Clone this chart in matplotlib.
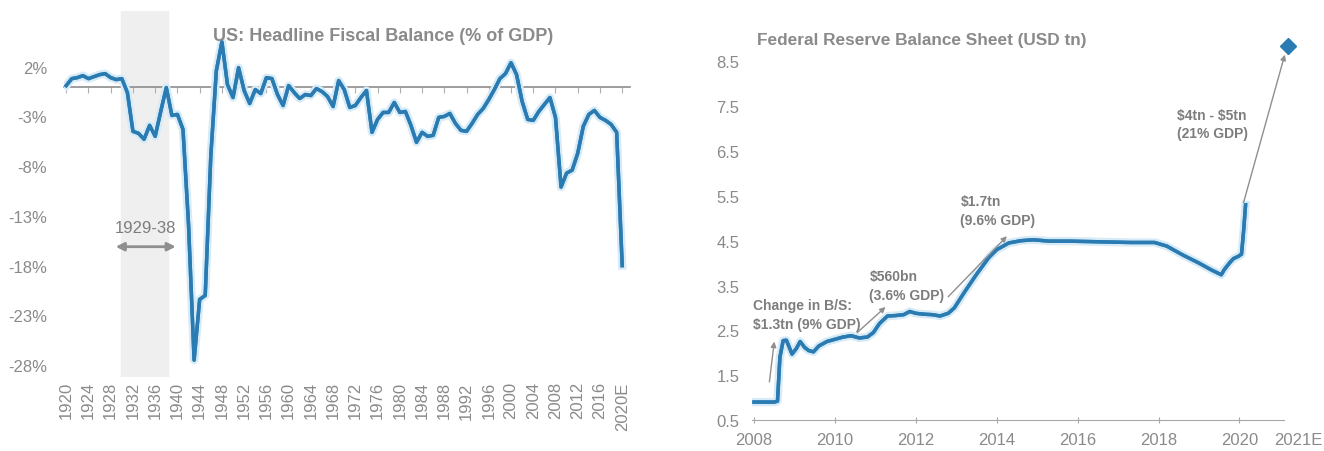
import matplotlib
matplotlib.use("Agg")
import matplotlib.pyplot as plt
import matplotlib.patheffects as pe
from matplotlib.ticker import FixedLocator, NullFormatter

# US headline fiscal balance, % of GDP
fiscal_years = list(range(1920, 2021))
fiscal_balance = [
    0.1, 0.8, 0.9, 1.1, 0.8, 1.0, 1.2, 1.3, 0.9, 0.7,      # 1920s
    0.8, -0.6, -4.5, -4.7, -5.3, -3.9, -5.0, -2.5, -0.1, -2.9,  # 1930s
    -2.8, -4.3, -13.9, -27.5, -21.4, -21.0, -7.0, 1.6, 4.5, 0.2,  # 1940s
    -1.1, 1.9, -0.4, -1.7, -0.3, -0.7, 0.9, 0.8, -0.8, -1.9,  # 1950s
    0.1, -0.6, -1.2, -0.8, -0.9, -0.2, -0.5, -1.0, -2.0, 0.6,  # 1960s
    -0.3, -2.1, -1.9, -1.1, -0.4, -4.6, -3.3, -2.6, -2.6, -1.6,  # 1970s
    -2.6, -2.5, -3.9, -5.6, -4.6, -5.0, -4.9, -3.1, -3.0, -2.7,  # 1980s
    -3.7, -4.4, -4.5, -3.7, -2.8, -2.2, -1.3, -0.3, 0.8, 1.3,  # 1990s
    2.4, 1.2, -1.5, -3.3, -3.4, -2.5, -1.8, -1.1, -3.1, -10.1,  # 2000s
    -8.7, -8.4, -6.7, -4.0, -2.8, -2.4, -3.1, -3.4, -3.8, -4.6,  # 2010s
    -18.0,
]
fiscal_ticks = list(range(1920, 2021, 4))
fiscal_tick_labels = [str(y) for y in fiscal_ticks[:-1]] + ["2020E"]
fiscal_yticks = [2, -3, -8, -13, -18, -23, -28]

# Federal Reserve balance sheet, USD tn
fed_time = [2008.0, 2008.5, 2008.58, 2008.64, 2008.72, 2008.8, 2008.94, 2009.05,
            2009.14, 2009.25, 2009.35, 2009.47, 2009.6, 2009.8, 2010.0, 2010.2,
            2010.4, 2010.6, 2010.8, 2010.95, 2011.1, 2011.3, 2011.5, 2011.7,
            2011.85, 2012.0, 2012.2, 2012.4, 2012.6, 2012.8, 2012.95, 2013.2,
            2013.5, 2013.8, 2014.0, 2014.3, 2014.6, 2014.9, 2015.3, 2015.8,
            2016.3, 2016.8, 2017.3, 2017.9, 2018.2, 2018.6, 2019.0, 2019.3,
            2019.55, 2019.62, 2019.75, 2019.85, 2019.97, 2020.05, 2020.1, 2020.15]
fed_value = [0.90, 0.90, 0.92, 1.90, 2.27, 2.28, 1.97, 2.10,
             2.25, 2.12, 2.05, 2.02, 2.15, 2.25, 2.30, 2.35,
             2.38, 2.33, 2.35, 2.45, 2.65, 2.82, 2.83, 2.85,
             2.92, 2.88, 2.86, 2.85, 2.82, 2.88, 3.00, 3.35,
             3.75, 4.12, 4.30, 4.45, 4.50, 4.52, 4.49, 4.49,
             4.48, 4.47, 4.46, 4.46, 4.38, 4.18, 4.00, 3.85,
             3.74, 3.85, 4.00, 4.10, 4.15, 4.20, 4.70, 5.30]
fed_proj_time = [2021.2]
fed_proj_value = [8.85]
fed_xticks = list(range(2008, 2021, 2))
fed_yticks = [0.5, 1.5, 2.5, 3.5, 4.5, 5.5, 6.5, 7.5, 8.5]

BLUE = "#2b7bb3"
GLOW = [pe.withStroke(linewidth=6, foreground="#d6ebf7"), pe.Normal()]
GREY_TXT = "#8a8a8a"
ANN_TXT = "#7d7d7d"
FONT = ["Liberation Sans", "DejaVu Sans"]
NARROW = ["Liberation Sans Narrow", "Liberation Sans", "DejaVu Sans"]

plt.rcParams["font.family"] = FONT

fig = plt.figure(figsize=(13.24, 4.52), dpi=100)

# ---------------- left: fiscal balance ----------------
ax1 = fig.add_axes([64 / 1324, 74 / 452, 566 / 1324, 366 / 452])
ax1.set_xlim(1919.6, 2021.4)
ax1.set_ylim(-29.2, 7.6)
ax1.axvspan(1929.85, 1938.3, color="#efefef", zorder=0)
ax1.plot(fiscal_years, fiscal_balance, color=BLUE, lw=2.5, zorder=3,
         path_effects=GLOW, solid_joinstyle="round")

for s in ax1.spines.values():
    s.set_visible(False)
ax1.set_xticks(fiscal_ticks)
ax1.set_xticklabels(fiscal_tick_labels, rotation=90, fontsize=12, color=GREY_TXT)
ax1.tick_params(axis="x", length=0, pad=3)
ax1.set_yticks(fiscal_yticks)
ax1.set_yticklabels([f"{v}%" for v in fiscal_yticks], fontsize=12, color=GREY_TXT)
ax1.tick_params(axis="y", length=0, pad=12)

# zero line with small ticks, as a secondary axis
y0, y1 = ax1.get_ylim()
zero = ax1.secondary_xaxis(-y0 / (y1 - y0))
for k, s in zero.spines.items():
    s.set_color("#8c8c8c")
    s.set_linewidth(1.2)
zero.xaxis.set_major_locator(FixedLocator(fiscal_ticks))
zero.xaxis.set_major_formatter(NullFormatter())
zero.tick_params(axis="x", which="both", length=4, color="#b0b0b0", direction="in",
                 labeltop=False, labelbottom=False)

ax1.annotate("", xy=(1928.9, -16.1), xytext=(1939.7, -16.1),
             arrowprops=dict(arrowstyle="<|-|>", color="#8f8f8f", lw=2,
                             mutation_scale=12, shrinkA=0, shrinkB=0))
ax1.text(1934.3, -14.2, "1929-38", ha="center", va="center", fontsize=12,
         color=ANN_TXT, family=NARROW)
ax1.text(0.564, 0.932, "US: Headline Fiscal Balance (% of GDP)", transform=ax1.transAxes,
         ha="center", va="center", fontsize=13, fontweight="bold", color=GREY_TXT,
         family=NARROW)

# ---------------- right: Fed balance sheet ----------------
ax2 = fig.add_axes([752 / 1324, 31 / 452, 532 / 1324, 390 / 452])
ax2.set_xlim(2007.95, 2021.1)
ax2.set_ylim(0.5, 9.2)
ax2.plot(fed_time, fed_value, color=BLUE, lw=2.5, zorder=3, path_effects=GLOW,
         solid_joinstyle="round")
ax2.plot(fed_proj_time, fed_proj_value, marker="D", ls="none", color=BLUE,
         markersize=8, zorder=4, clip_on=False)

for k in ["top", "right", "left"]:
    ax2.spines[k].set_visible(False)
ax2.spines["bottom"].set_color("#a8a8a8")
ax2.set_xticks(fed_xticks)
ax2.set_xticklabels([str(y) for y in fed_xticks], fontsize=12, color=GREY_TXT)
ax2.tick_params(axis="x", length=5, direction="inout", color="#a8a8a8", pad=6)
ax2.annotate("2021E", xy=(2021.45, 0), xycoords=ax2.get_xaxis_transform(),
             xytext=(0, -8.5), textcoords="offset points", ha="center", va="top",
             fontsize=12, color=GREY_TXT, annotation_clip=False)
ax2.set_yticks(fed_yticks)
ax2.set_yticklabels([f"{v:.1f}" for v in fed_yticks], fontsize=12, color=GREY_TXT)
ax2.tick_params(axis="y", length=0, pad=9)

ax2.text(0.01, 0.975, "Federal Reserve Balance Sheet (USD tn)", transform=ax2.transAxes,
         ha="left", va="center", fontsize=12.4, fontweight="bold", color=GREY_TXT,
         family=NARROW)

arrow = dict(arrowstyle="-|>", color="#8f8f8f", lw=1, mutation_scale=8,
             shrinkA=0, shrinkB=0)
ann_kw = dict(fontsize=10, fontweight="bold", color=ANN_TXT, family=NARROW,
              ha="left", va="center", linespacing=1.4)

ax2.annotate("", xy=(2008.5, 2.25), xytext=(2008.38, 1.35), arrowprops=arrow)
ax2.text(2007.97, 2.85, "Change in B/S:\n\\$1.3tn (9% GDP)", **ann_kw)

ax2.annotate("", xy=(2011.25, 3.02), xytext=(2010.55, 2.45), arrowprops=arrow)
ax2.text(2010.85, 3.5, "\\$560bn\n(3.6% GDP)", **ann_kw)

ax2.annotate("", xy=(2014.25, 4.6), xytext=(2012.8, 3.25), arrowprops=arrow)
ax2.text(2013.1, 5.17, "\\$1.7tn\n(9.6% GDP)", **ann_kw)

ax2.annotate("", xy=(2021.12, 8.65), xytext=(2020.1, 5.35), arrowprops=arrow,
             annotation_clip=False)
ax2.text(2018.45, 7.1, "\\$4tn - \\$5tn\n(21% GDP)", **ann_kw)

fig.savefig("out.png", dpi=100)
